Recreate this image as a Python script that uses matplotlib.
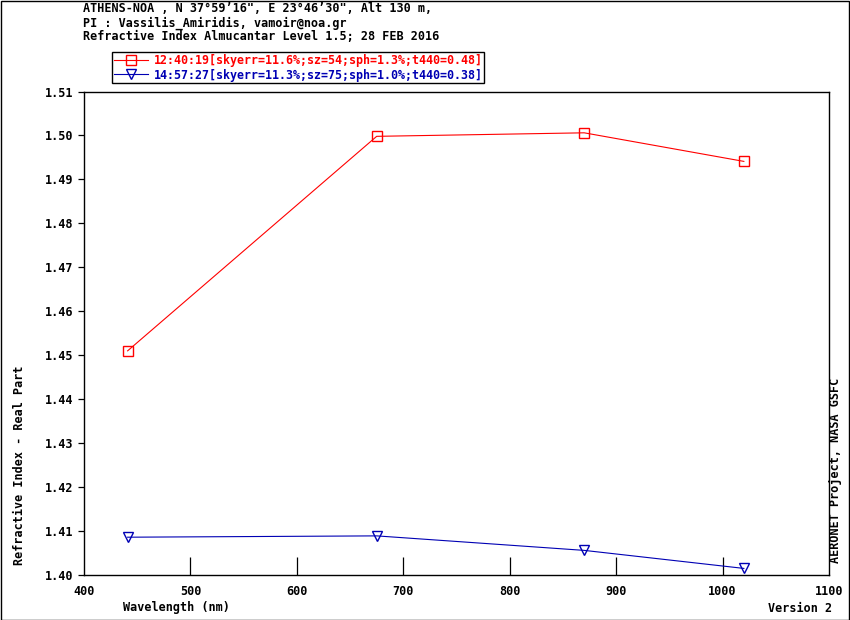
import matplotlib
matplotlib.use("Agg")
import matplotlib.pyplot as plt
from matplotlib.patches import Rectangle

wavelengths = [441, 675, 870, 1020]
series1_label = "12:40:19[skyerr=11.6%;sz=54;sph=1.3%;t440=0.48]"
series1_values = [1.4510, 1.4998, 1.5006, 1.4941]
series2_label = "14:57:27[skyerr=11.3%;sz=75;sph=1.0%;t440=0.38]"
series2_values = [1.4086, 1.4089, 1.4056, 1.4015]
xticks = [400, 500, 600, 700, 800, 900, 1000, 1100]
yticks = [1.40, 1.41, 1.42, 1.43, 1.44, 1.45, 1.46, 1.47, 1.48, 1.49, 1.50, 1.51]
title_lines = [
    "ATHENS-NOA , N 37\u00b059\u201916\", E 23\u00b046\u201930\", Alt 130 m,",
    "PI : Vassilis_Amiridis, vamoir@noa.gr",
    "Refractive Index Almucantar Level 1.5; 28 FEB 2016",
]

FONT = "DejaVu Sans Mono"
W, H = 850, 620
fig = plt.figure(figsize=(8.5, 6.2), dpi=100)
ax = fig.add_axes([84 / W, 1 - 575 / H, (829 - 84) / W, (575 - 91.5) / H])

red = "#ff0000"
blue = "#0000b4"
ax.plot(wavelengths, series1_values, color=red, lw=0.8, marker="s", ms=7,
        mfc="none", mec=red, mew=1.0, label=series1_label)
ax.plot(wavelengths, series2_values, color=blue, lw=0.8, marker="v", ms=7,
        mfc="none", mec=blue, mew=1.0, label=series2_label)

ax.set_xlim(400, 1100)
ax.set_ylim(1.40, 1.51)
ax.set_xticks(xticks)
ax.set_yticks(yticks)
ax.set_xticklabels([str(v) for v in xticks], fontfamily=FONT, fontsize=8.5, fontweight="bold")
ax.set_yticklabels([f"{v:.2f}" for v in yticks], fontfamily=FONT, fontsize=8.5, fontweight="bold")
ax.tick_params(axis="x", direction="in", length=13, width=0.9, pad=7, top=False)
ax.tick_params(axis="y", direction="out", length=4, width=0.9, pad=4, right=False)
for s in ax.spines.values():
    s.set_linewidth(1.0)
ax.xaxis.get_major_ticks()[0].tick1line.set_visible(False)
ax.xaxis.get_major_ticks()[-1].tick1line.set_visible(False)

y0 = 9
for i, line in enumerate(title_lines):
    fig.text(83 / W, 1 - (y0 + 14 * i) / H, line, fontfamily=FONT, fontsize=8.5,
             fontweight="bold", va="center", ha="left")

leg = ax.legend(loc="upper left", bbox_to_anchor=(112 / W, 1 - 52 / H),
                bbox_transform=fig.transFigure, prop={"family": FONT, "size": 8.4, "weight": "bold"},
                frameon=True, fancybox=False, edgecolor="black", framealpha=1,
                borderpad=0.15, labelspacing=0.15, handlelength=2.9, handletextpad=0.5,
                borderaxespad=0)
leg.get_frame().set_linewidth(1.0)
for txt, c in zip(leg.get_texts(), [red, blue]):
    txt.set_color(c)

fig.text(20 / W, 1 - 465 / H, "Refractive Index - Real Part", rotation=90,
         fontfamily=FONT, fontsize=8.5, fontweight="bold", va="center", ha="center")
fig.text(836 / W, 1 - 563 / H, "AERONET Project, NASA GSFC", rotation=90,
         fontfamily=FONT, fontsize=8.5, fontweight="bold", va="bottom", ha="center")
fig.text(123 / W, 1 - 608 / H, "Wavelength (nm)", fontfamily=FONT, fontsize=8.5,
         fontweight="bold", va="center", ha="left")
fig.text(832 / W, 1 - 608 / H, "Version 2", fontfamily=FONT, fontsize=8.5,
         fontweight="bold", va="center", ha="right")

fig.patches.append(Rectangle((0.5 / W, 0.5 / H), 1 - 1.5 / W, 1 - 1.5 / H,
                             transform=fig.transFigure, fill=False, edgecolor="black", lw=1.0))

fig.savefig("out.png", dpi=100)
